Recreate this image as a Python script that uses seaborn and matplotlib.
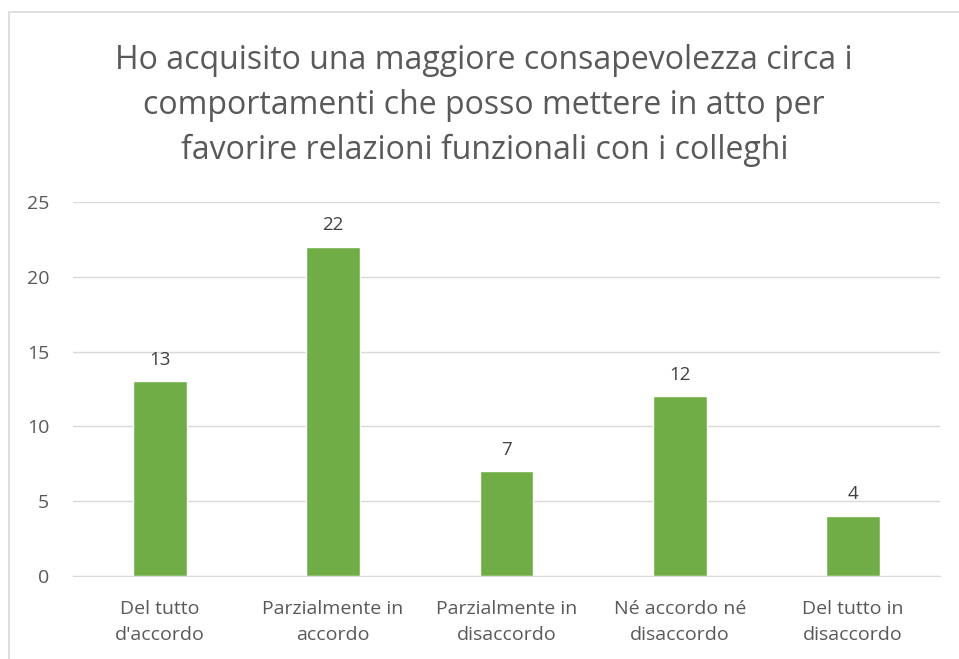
import matplotlib
matplotlib.use("Agg")
import matplotlib.pyplot as plt
import seaborn as sns
import pandas as pd
from matplotlib.patches import Rectangle

# chart data
categories = [
    "Del tutto\nd'accordo",
    "Parzialmente in\naccordo",
    "Parzialmente in\ndisaccordo",
    "Né accordo né\ndisaccordo",
    "Del tutto in\ndisaccordo",
]
counts = [13, 22, 7, 12, 4]
y_ticks = [0, 5, 10, 15, 20, 25]
title = ("Ho acquisito una maggiore consapevolezza circa i\n"
         "comportamenti che posso mettere in atto per\n"
         "favorire relazioni funzionali con i colleghi")

BAR_GREEN = "#70AD47"
TEXT_GREY = "#595959"
GRID_GREY = "#D9D9D9"

sns.set_style("white")
plt.rcParams["font.family"] = ["Open Sans", "DejaVu Sans"]

df = pd.DataFrame({"category": categories, "count": counts})

fig = plt.figure(figsize=(9.59, 6.59), dpi=100)
ax = fig.add_axes([0.0761, 0.126, 0.904, 0.5675])

sns.barplot(data=df, x="category", y="count", color=BAR_GREEN,
            width=0.31, saturation=1, ax=ax)

for i, v in enumerate(counts):
    ax.text(i, v + 0.85, str(v), ha="center", va="bottom",
            fontsize=13.5, color="#404040")

ax.set_ylim(0, 25)
ax.set_yticks(y_ticks)
ax.set_xlim(-0.5, len(categories) - 0.5)
ax.yaxis.grid(True, color=GRID_GREY, linewidth=1)
ax.set_axisbelow(True)
for s in ["top", "right", "left"]:
    ax.spines[s].set_visible(False)
ax.spines["bottom"].set_color(GRID_GREY)
ax.tick_params(axis="both", length=0, labelsize=14, colors=TEXT_GREY)
ax.tick_params(axis="y", pad=17)
ax.tick_params(axis="x", pad=17)
for lbl in ax.get_xticklabels():
    lbl.set_linespacing(1.62)
ax.set_xlabel("")
ax.set_ylabel("")

fig.text(0.505, 0.84, title, ha="center", va="center", fontsize=23,
         color=TEXT_GREY, linespacing=1.46)

# chart area border (clipped at right/bottom like the original)
fig.add_artist(Rectangle((9 / 959, -0.1), 1.1, 1 - 12 / 659 + 0.1,
                         transform=fig.transFigure, fill=False,
                         edgecolor=GRID_GREY, linewidth=1.2))

fig.savefig("out.png", dpi=100)
